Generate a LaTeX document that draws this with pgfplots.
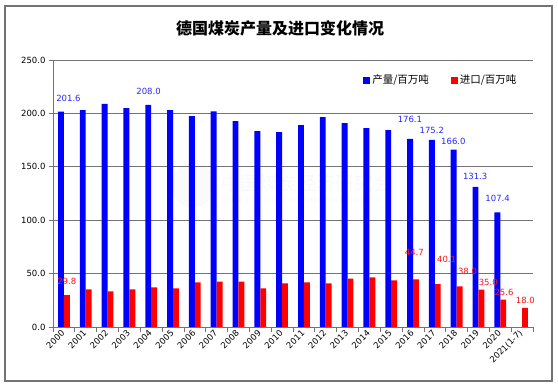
\documentclass[border=0pt]{standalone}
\usepackage{fontspec}
\setmainfont{DejaVu Sans}
\newfontfamily\cjk{Noto Sans CJK SC}
\usepackage{pgfplots}
\pgfplotsset{compat=1.18}
\definecolor{labblue}{RGB}{40,40,255}
\definecolor{labred}{RGB}{255,20,20}
\newcommand{\lab}{\fontsize{8.5bp}{10bp}\selectfont}
\begin{document}
\begin{tikzpicture}
\useasboundingbox[fill=white] (0,0) rectangle (558bp,387bp);
\draw[draw=gray!90!black, line width=1.2bp] (5bp,6bp) rectangle (552bp,381bp);
\node[font=\cjk\fontsize{16bp}{18bp}\selectfont\bfseries] at (280bp,358.5bp) {德国煤炭产量及进口变化情况};
% faint watermark
\fill[black!2] (193bp,202bp) circle (22bp);
\node[text=black!2.5, font=\cjk\fontsize{19bp}{20bp}\selectfont, anchor=west] at (218bp,204bp) {中国煤炭经济研究会};
\node[text=black!2.5, font=\fontsize{7.5bp}{8bp}\selectfont, anchor=west] at (218bp,187bp) {China Coal Economic Research Association};
\begin{axis}[
  at={(53bp,60bp)}, anchor=south west,
  scale only axis, width=480bp, height=267bp,
  xmin=-0.5, xmax=21.5, ymin=0, ymax=250,
  ybar, bar width=0.27,
  ytick={0,50,...,250},
  ymajorgrids, grid style={draw=gray!90!black, line width=0.8bp},
  axis x line*=bottom, axis y line*=left,
  axis line style={-, draw=gray!90!black, line width=0.8bp},
  tick align=outside, major tick length=4bp, minor tick length=5bp,
  major y tick style={draw=gray!90!black, line width=0.8bp},
  major x tick style={draw=none},
  minor x tick style={draw=gray!90!black, line width=0.8bp},
  xtick={0,...,21},
  minor xtick={-0.5,0.5,...,21.5},
  xticklabels={2000,2001,2002,2003,2004,2005,2006,2007,2008,2009,2010,2011,2012,2013,2014,2015,2016,2017,2018,2019,2020,2021(1-7)},
  xticklabel style={rotate=45, anchor=east, font=\lab, inner sep=1bp},
  yticklabel style={font=\lab, /pgf/number format/.cd, fixed, fixed zerofill, precision=1},
  /pgf/number format/assume math mode=true,
  legend image code/.code={\fill[#1] (0bp,-3.5bp) rectangle (7bp,3.5bp);},
  legend style={at={(0.646,0.925)}, anchor=west, draw=none, fill=none, inner sep=0pt,
    font=\cjk\fontsize{10.5bp}{12bp}\selectfont,
    /tikz/every even column/.append style={column sep=20bp}},
  legend columns=2,
  legend cell align=left,
]
\addplot[fill=blue, draw=none, bar shift=-0.135] coordinates {
(0,201.6) (1,203.0) (2,209.0) (3,205.0) (4,208.0) (5,203.0) (6,197.5) (7,202.0)
(8,192.8) (9,183.5) (10,182.4) (11,189.0) (12,196.5) (13,190.9) (14,186.3) (15,184.4)
(16,176.1) (17,175.2) (18,166.0) (19,131.3) (20,107.4)};
\addlegendentry{产量/百万吨}
\addplot[fill=red, draw=none, bar shift=0.135] coordinates {
(0,29.8) (1,35.2) (2,33.3) (3,35.2) (4,37.0) (5,36.1) (6,41.7) (7,42.6)
(8,42.6) (9,36.1) (10,40.8) (11,41.7) (12,40.8) (13,45.4) (14,46.4) (15,43.6)
(16,44.7) (17,40.1) (18,38.0) (19,35.0) (20,25.6) (21,18.0)};
\addlegendentry{进口/百万吨}
\node[text=labblue, font=\lab] at (axis cs:0.21,214.2) {201.6};
\node[text=labblue, font=\lab] at (axis cs:3.88,221) {208.0};
\node[text=labblue, font=\lab] at (axis cs:15.86,194.7) {176.1};
\node[text=labblue, font=\lab] at (axis cs:16.86,183.7) {175.2};
\node[text=labblue, font=\lab] at (axis cs:17.85,174.0) {166.0};
\node[text=labblue, font=\lab] at (axis cs:18.85,140.6) {131.3};
\node[text=labblue, font=\lab] at (axis cs:19.88,120.3) {107.4};
\node[text=labred, font=\lab] at (axis cs:0.13,42.3) {29.8};
\node[text=labred, font=\lab] at (axis cs:16.06,69.4) {44.7};
\node[text=labred, font=\lab] at (axis cs:17.54,63.2) {40.1};
\node[text=labred, font=\lab] at (axis cs:18.5,52.5) {38.0};
\node[text=labred, font=\lab] at (axis cs:19.45,41.6) {35.0};
\node[text=labred, font=\lab] at (axis cs:20.17,32.2) {25.6};
\node[text=labred, font=\lab] at (axis cs:21.15,24.7) {18.0};
\end{axis}
\end{tikzpicture}
\end{document}
